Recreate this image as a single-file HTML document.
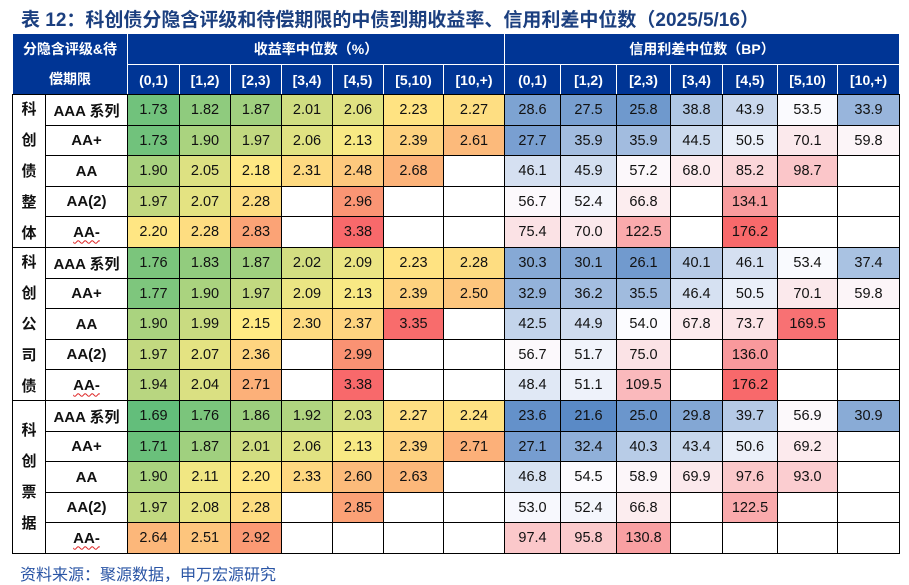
<!DOCTYPE html><html><head><meta charset="utf-8"><style>
body{margin:0;width:909px;height:585px;background:#fff;position:relative;overflow:hidden;font-family:"Liberation Sans","Noto Sans CJK SC",sans-serif}
.c{position:absolute;box-sizing:border-box;display:flex;align-items:center;justify-content:center;font-size:14.5px;color:#111}
.h{background:#003595;color:#fff;font-weight:bold;font-size:14px}
.t{position:absolute;left:21px;top:5px;font-size:19px;font-weight:bold;color:#1b3f7f;white-space:nowrap}
.s{position:absolute;left:20px;top:561px;font-size:16px;color:#2a55a5}
.l{font-weight:bold;font-size:15px}
.g{font-weight:bold;font-size:15px;flex-direction:column;line-height:31px}
.w{text-decoration:underline wavy #d22;text-decoration-thickness:1px;text-underline-offset:3px}
</style></head><body>
<div class="t">表 12：科创债分隐含评级和待偿期限的中债到期收益率、信用利差中位数（2025/5/16）</div>
<div id="tb"></div>
<div class="s">资料来源：聚源数据，申万宏源研究</div>
<script>
const xs=[12,45,127,179,230,281,332,383,443,504,560,616,670,722,777,837,899];
const Y0=94,RH=30.6,top0=33,mid=64;
const hdr=["(0,1)","[1,2)","[2,3)","[3,4)","[4,5)","[5,10)","[10,+)"];
const labels=["AAA 系列","AA+","AA","AA(2)","AA-"];
const groups=["科创债整体","科创公司债","科创票据"];
const Yd=[
["1.73","1.82","1.87","2.01","2.06","2.23","2.27"],
["1.73","1.90","1.97","2.06","2.13","2.39","2.61"],
["1.90","2.05","2.18","2.31","2.48","2.68",""],
["1.97","2.07","2.28","","2.96","",""],
["2.20","2.28","2.83","","3.38","",""],
["1.76","1.83","1.87","2.02","2.09","2.23","2.28"],
["1.77","1.90","1.97","2.09","2.13","2.39","2.50"],
["1.90","1.99","2.15","2.30","2.37","3.35",""],
["1.97","2.07","2.36","","2.99","",""],
["1.94","2.04","2.71","","3.38","",""],
["1.69","1.76","1.86","1.92","2.03","2.27","2.24"],
["1.71","1.87","2.01","2.06","2.13","2.39","2.71"],
["1.90","2.11","2.20","2.33","2.60","2.63",""],
["1.97","2.08","2.28","","2.85","",""],
["2.64","2.51","2.92","","","",""]];
const Sd=[
["28.6","27.5","25.8","38.8","43.9","53.5","33.9"],
["27.7","35.9","35.9","44.5","50.5","70.1","59.8"],
["46.1","45.9","57.2","68.0","85.2","98.7",""],
["56.7","52.4","66.8","","134.1","",""],
["75.4","70.0","122.5","","176.2","",""],
["30.3","30.1","26.1","40.1","46.1","53.4","37.4"],
["32.9","36.2","35.5","46.4","50.5","70.1","59.8"],
["42.5","44.9","54.0","67.8","73.7","169.5",""],
["56.7","51.7","75.0","","136.0","",""],
["48.4","51.1","109.5","","176.2","",""],
["23.6","21.6","25.0","29.8","39.7","56.9","30.9"],
["27.1","32.4","40.3","43.4","50.6","69.2",""],
["46.8","54.5","58.9","69.9","97.6","93.0",""],
["53.0","52.4","66.8","","122.5","",""],
["97.4","95.8","130.8","","","",""]];
function mix(a,b,t){return 'rgb('+a.map((v,i)=>Math.round(v+(b[i]-v)*t)).join(',')+')'}
function scale(v,mn,md,mx,lo,mi,hi){return v<=md?mix(lo,mi,(v-mn)/(md-mn)):mix(mi,hi,Math.min(1,(v-md)/(mx-md)))}
const G=[99,190,123],Yl=[255,235,132],R=[248,105,107],B=[90,138,198],W=[252,252,255];
let h='';
function cell(x1,y1,x2,y2,cls,txt,bg,br){h+=`<div class="c ${cls}" style="left:${x1}px;top:${y1}px;width:${x2-x1+1}px;height:${y2-y1+1}px;${bg?'background:'+bg+';':''}${br||''}">${txt}</div>`}
const wb='border:1px solid #fff;';
cell(xs[0],top0,xs[2],Y0,'h','<div style="text-align:center;line-height:30px">分隐含评级&amp;待<br>偿期限</div>','',wb);
cell(xs[2],top0,xs[9],mid,'h','收益率中位数（%）','',wb);
cell(xs[9],top0,xs[16],mid,'h','信用利差中位数（BP）','',wb);
for(let i=0;i<14;i++)cell(xs[i+2],mid,xs[i+3],Y0,'h',hdr[i%7],'',wb);
const bb='border:1px solid #000;';
for(let g=0;g<3;g++){
 const y1=Y0+g*5*RH;
 cell(xs[0],Math.round(y1),xs[1],Math.round(y1+5*RH),'g',groups[g].split('').map(c=>'<span>'+c+'</span>').join(''),'#fff',bb);
}
for(let r=0;r<15;r++){
 const y1=Math.round(Y0+r*RH),y2=Math.round(Y0+(r+1)*RH);
 const lb=labels[r%5];
 cell(xs[1],y1,xs[2],y2,'l',lb=='AA-'?'<span class="w">AA-</span>':lb,'#fff',bb);
 for(let c=0;c<7;c++){const v=Yd[r][c];cell(xs[c+2],y1,xs[c+3],y2,'',v,v?scale(+v,1.69,2.15,3.38,G,Yl,R):'#fff',bb);}
 for(let c=0;c<7;c++){const v=Sd[r][c];cell(xs[c+9],y1,xs[c+10],y2,'',v,v?scale(+v,21.6,54,176.2,B,W,R):'#fff',bb);}
}
document.getElementById('tb').innerHTML=h;
</script></body></html>
